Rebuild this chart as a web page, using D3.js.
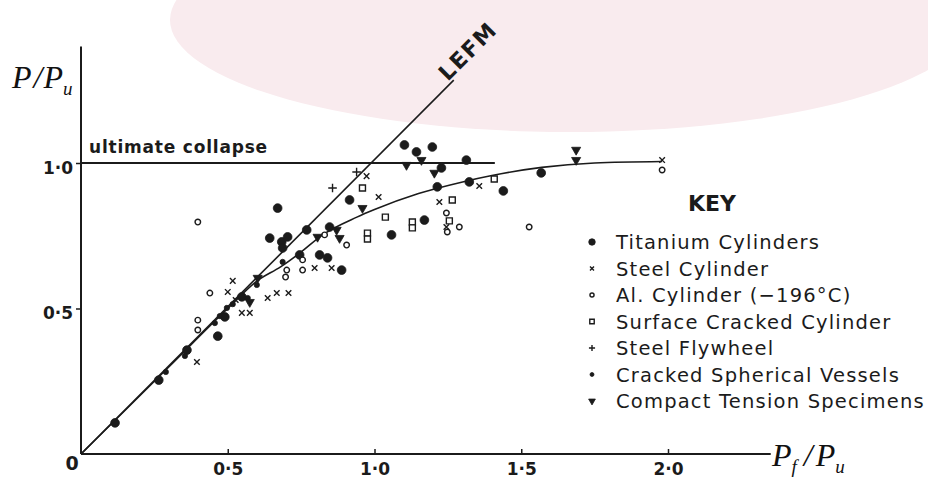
<!DOCTYPE html>
<html>
<head>
<meta charset="utf-8">
<script src="https://cdn.jsdelivr.net/npm/d3@7"></script>
<style>
body { margin: 0; background: #fff; }
svg { display: block; }
</style>
</head>
<body>
<script>
// data, [Pf/Pu, P/Pu]
var titanium = [[0.670,0.845],[0.643,0.742],[0.684,0.729],[0.704,0.746],[0.687,0.708],[0.769,0.770],
  [0.847,0.780],[0.745,0.684],[0.813,0.684],[0.840,0.674],[0.888,0.632],[0.915,0.873],[1.102,1.062],
  [1.143,1.038],[1.197,1.055],[1.170,0.804],[1.058,0.753],[1.313,1.010],[1.228,0.983],[1.214,0.918],
  [1.323,0.935],[1.439,0.904],[1.568,0.966],[0.466,0.405],[0.548,0.540],[0.490,0.471],[0.361,0.357],
  [0.116,0.107],[0.265,0.254]];
var steelCyl = [[0.395,0.316],[0.500,0.557],[0.517,0.595],[0.548,0.485],[0.575,0.485],[0.636,0.536],
  [0.667,0.553],[0.707,0.553],[0.796,0.639],[0.854,0.639],[0.973,0.955],[1.014,0.883],[1.221,0.866],
  [1.357,0.921],[1.245,0.780],[1.980,1.010],[0.527,0.529]];
var alCyl = [[0.398,0.797],[0.398,0.460],[0.398,0.426],[0.439,0.553],[0.701,0.632],[0.697,0.608],
  [0.755,0.667],[0.755,0.632],[0.830,0.753],[0.905,0.718],[1.245,0.828],[1.248,0.763],[1.289,0.780],
  [1.527,0.780],[1.980,0.976]];
var surfCyl = [[0.959,0.914],[1.037,0.814],[1.129,0.797],[1.129,0.777],[0.976,0.759],[0.976,0.739],
  [1.265,0.873],[1.408,0.945],[1.255,0.801]];
var flywheel = [[0.857,0.914],[0.939,0.969]];
var spherical = [[0.289,0.282],[0.354,0.337],[0.456,0.450],[0.473,0.474],[0.497,0.502],[0.517,0.515],
  [0.568,0.536],[0.599,0.581],[0.687,0.660]];
var compact = [[0.959,0.845],[1.109,0.993],[0.806,0.746],[0.602,0.605],[0.575,0.522],[1.160,1.010],
  [1.204,0.966],[1.687,1.045],[1.687,1.010],[0.881,0.742],[0.871,0.770]];

var curvePts = [[0,0],[0.3,0.3],[0.5,0.5],[0.6,0.595],[0.68,0.643],[0.745,0.69],[0.823,0.753],
  [0.94,0.814],[1.0,0.84],[1.15,0.895],[1.3,0.935],[1.4,0.957],[1.57,0.985],[1.75,1.0],[1.98,1.005]];
var lefmPts = [[0,0],[1.27,1.285]];
var collapsePts = [[0,1],[1.41,1]];

var xTicks = [0.5, 1.0, 1.5, 2.0];
var xTickLabels = ["0·5", "1·0", "1·5", "2·0"];
var yTicks = [0.5, 1.0];
var yTickLabels = ["0·5", "1·0"];
var keyLabels = ["Titanium Cylinders", "Steel Cylinder", "Al. Cylinder (\u2212196°C)",
  "Surface Cracked Cylinder", "Steel Flywheel", "Cracked Spherical Vessels", "Compact Tension Specimens"];

var W = 928, H = 479;
var ink = "#1b1b1b";
var hand = "'DejaVu Sans', sans-serif";

var svg = d3.select("body").append("svg").attr("width", W).attr("height", H);

// faint pink stamp of the scanned page
svg.append("ellipse").attr("cx", 570).attr("cy", 20).attr("rx", 400).attr("ry", 112).attr("fill", "#f9ebee");

var x = d3.scaleLinear().domain([0, 2]).range([81, 668]);
var y = d3.scaleLinear().domain([0, 1]).range([454, 163]);

// axes lines
svg.append("line").attr("x1", x(0)).attr("x2", x(2.35)).attr("y1", y(0)).attr("y2", y(0))
  .attr("stroke", ink).attr("stroke-width", 2);
svg.append("line").attr("x1", x(0)).attr("x2", x(0)).attr("y1", y(0)).attr("y2", y(1.4))
  .attr("stroke", ink).attr("stroke-width", 2);

var xAxis = svg.append("g").attr("transform", "translate(0," + y(0) + ")")
  .call(d3.axisBottom(x).tickValues(xTicks).tickSizeInner(-5).tickSizeOuter(0)
    .tickFormat(function(d, i) { return xTickLabels[i]; }));
xAxis.select(".domain").remove();
xAxis.selectAll("line").attr("stroke", ink).attr("stroke-width", 1.5);
xAxis.selectAll("text").attr("dy", "1.05em").attr("font-family", hand).attr("font-weight", "bold")
  .attr("font-size", 17).attr("fill", ink);

var yAxis = svg.append("g").attr("transform", "translate(" + x(0) + ",0)")
  .call(d3.axisLeft(y).tickValues(yTicks).tickSizeInner(5).tickSizeOuter(0)
    .tickFormat(function(d, i) { return yTickLabels[i]; }));
yAxis.select(".domain").remove();
yAxis.selectAll("line").attr("stroke", ink).attr("stroke-width", 1.5);
yAxis.selectAll("text").attr("dy", "0.6em").attr("font-family", hand).attr("font-weight", "bold")
  .attr("font-size", 17).attr("fill", ink);

svg.append("text").attr("x", 72).attr("y", 470).attr("text-anchor", "middle").attr("font-family", hand)
  .attr("font-weight", "bold").attr("font-size", 19).attr("fill", ink).text("0");

// lines
var line = d3.line().x(function(d) { return x(d[0]); }).y(function(d) { return y(d[1]); });
svg.append("path").attr("d", line(collapsePts)).attr("fill", "none").attr("stroke", ink).attr("stroke-width", 1.8);
svg.append("path").attr("d", line(lefmPts)).attr("fill", "none").attr("stroke", ink).attr("stroke-width", 1.6);
svg.append("path").attr("d", line.curve(d3.curveMonotoneX)(curvePts)).attr("fill", "none")
  .attr("stroke", ink).attr("stroke-width", 1.6);

svg.append("text").attr("transform", "translate(" + (x(1.27) - 6) + "," + (y(1.285) + 2) + ") rotate(-45)")
  .attr("font-family", hand).attr("font-weight", "bold").attr("font-size", 22).attr("fill", ink)
  .attr("letter-spacing", 1.5).text("LEFM");

svg.append("text").attr("x", 89).attr("y", 153).attr("font-family", hand).attr("font-weight", "bold")
  .attr("font-size", 17).attr("letter-spacing", 0.8).attr("fill", ink).text("ultimate collapse");

// markers
var series = [
  { data: titanium, type: d3.symbolCircle, size: 60, fill: true },
  { data: steelCyl, type: d3.symbolTimes, size: 22, fill: false },
  { data: alCyl, type: d3.symbolCircle, size: 24, fill: false },
  { data: surfCyl, type: d3.symbolSquare, size: 36, fill: false },
  { data: flywheel, type: d3.symbolPlus, size: 26, fill: false },
  { data: spherical, type: d3.symbolCircle, size: 22, fill: true },
  { data: compact, type: d3.symbolTriangle, size: 36, fill: true, flip: true }
];

function drawMarks(g, s, pts) {
  g.selectAll("path.m").data(pts).enter().append("path")
    .attr("class", "m")
    .attr("d", d3.symbol().type(s.type).size(s.size))
    .attr("transform", function(d) { return "translate(" + d[0] + "," + d[1] + ")" + (s.flip ? " rotate(180)" : ""); })
    .attr("fill", s.fill ? ink : "#fff")
    .attr("stroke", ink)
    .attr("stroke-width", s.fill ? 0.8 : 1.4);
}

series.forEach(function(s) {
  drawMarks(svg.append("g"), s, s.data.map(function(d) { return [x(d[0]), y(d[1])]; }));
});

// key
svg.append("text").attr("x", 688).attr("y", 211).attr("font-family", hand).attr("font-weight", 600)
  .attr("font-size", 22).attr("fill", ink).text("KEY");
var key = svg.append("g");
keyLabels.forEach(function(lbl, i) {
  var ky = 242 + i * 26.5;
  var s = series[i];
  var ks = { type: s.type, size: s.size * 0.55, fill: s.fill, flip: s.flip };
  drawMarks(key.append("g"), ks, [[592, ky]]);
  key.append("text").attr("x", 616).attr("y", ky + 7).attr("font-family", hand).attr("font-size", 19.5)
    .attr("letter-spacing", 1.2).attr("fill", ink).text(lbl);
});

// axis titles
var t1 = svg.append("text").attr("x", 12).attr("y", 88).attr("font-family", "'Liberation Serif', serif")
  .attr("font-style", "italic").attr("font-size", 32).attr("fill", "#111");
t1.append("tspan").text("P");
t1.append("tspan").attr("dx", 2).text("/");
t1.append("tspan").attr("dx", 1).text("P");
t1.append("tspan").attr("font-size", 19).attr("dy", 7).text("u");

var t2 = svg.append("text").attr("x", 772).attr("y", 466).attr("font-family", "'Liberation Serif', serif")
  .attr("font-style", "italic").attr("font-size", 32).attr("fill", "#111");
t2.append("tspan").text("P");
t2.append("tspan").attr("font-size", 19).attr("dy", 7).text("f");
t2.append("tspan").attr("dy", -7).attr("dx", 7).text("/");
t2.append("tspan").attr("dx", 3).text("P");
t2.append("tspan").attr("font-size", 19).attr("dy", 7).text("u");
</script>
</body>
</html>
